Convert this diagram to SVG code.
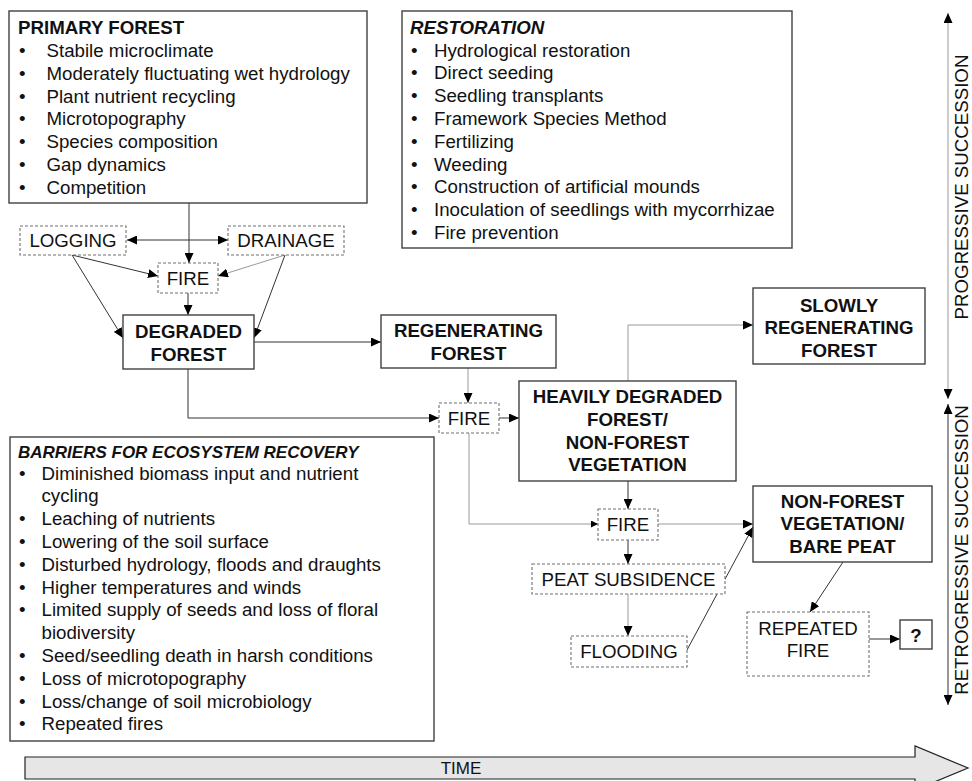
<svg xmlns="http://www.w3.org/2000/svg" width="972" height="781" viewBox="0 0 972 781">
<defs>
<marker id="ah" markerUnits="userSpaceOnUse" markerWidth="11" markerHeight="9" refX="10" refY="4.5" orient="auto-start-reverse"><path d="M0,0 L10,4.5 L0,9 z" fill="#000"/></marker>
<marker id="as" markerUnits="userSpaceOnUse" markerWidth="8" markerHeight="7" refX="7" refY="3.5" orient="auto-start-reverse"><path d="M0,0 L7,3.5 L0,7 z" fill="#000"/></marker>
<style>
text{font-family:"Liberation Sans",Arial,sans-serif;font-size:18.7px;fill:#111}
.b{font-weight:bold}
.bi{font-weight:bold;font-style:italic}
.c{text-anchor:middle}
.box{fill:#fff;stroke:#404040;stroke-width:1.4}
.dash{fill:#fff;stroke:#707070;stroke-width:1.1;stroke-dasharray:3,2}
.ln{fill:none;stroke:#333;stroke-width:1;marker-end:url(#ah)}
.lt{fill:none;stroke:#999;stroke-width:1;marker-end:url(#ah)}
</style>
</defs>
<g id="connectors">
<line class="ln" x1="189" y1="203" x2="189" y2="263"/>
<line class="ln" x1="127" y1="240" x2="228" y2="240" style="marker-start:url(#ah)"/>
<line class="ln" x1="72" y1="255" x2="158" y2="276"/>
<line class="ln" x1="72" y1="255" x2="123" y2="338"/>
<line class="lt" x1="285" y1="255" x2="218" y2="276"/>
<line class="ln" x1="285" y1="255" x2="254" y2="338"/>
<line class="ln" x1="188" y1="293" x2="188" y2="315"/>
<line class="ln" x1="254" y1="342" x2="381" y2="342"/>
<polyline class="ln" points="188,369 188,418 439,418"/>
<line class="lt" x1="468" y1="368" x2="468" y2="403"/>
<line class="ln" x1="499" y1="418" x2="519" y2="418"/>
<polyline class="lt" points="628,381 628,325 753,325"/>
<line class="ln" x1="628" y1="481" x2="628" y2="509"/>
<polyline class="lt" points="469,433 469,524 598,524" style="marker-end:url(#as)"/>
<line class="lt" x1="658" y1="524" x2="753" y2="524"/>
<line class="ln" x1="628" y1="540" x2="628" y2="564"/>
<line class="lt" x1="628" y1="594" x2="628" y2="636"/>
<line class="ln" x1="687" y1="650" x2="753" y2="527"/>
<line class="ln" x1="843" y1="562" x2="810" y2="612"/>
<line class="ln" x1="869" y1="639" x2="900" y2="639"/>
<line class="lt" x1="948" y1="399" x2="948" y2="13" style="marker-start:url(#ah)"/>
<line class="ln" x1="948" y1="404" x2="948" y2="705" style="marker-start:url(#ah)"/>
</g>
<g id="primary-forest">
<rect class="box" x="9" y="11" width="358" height="192"/>
<text class="b" x="18" y="34">PRIMARY FOREST</text>
<g>
<text x="19" y="57">•</text><text x="46.5" y="57">Stabile microclimate</text>
<text x="19" y="79.8">•</text><text x="46.5" y="79.8">Moderately fluctuating wet hydrology</text>
<text x="19" y="102.6">•</text><text x="46.5" y="102.6">Plant nutrient recycling</text>
<text x="19" y="125.4">•</text><text x="46.5" y="125.4">Microtopography</text>
<text x="19" y="148.2">•</text><text x="46.5" y="148.2">Species composition</text>
<text x="19" y="171">•</text><text x="46.5" y="171">Gap dynamics</text>
<text x="19" y="193.8">•</text><text x="46.5" y="193.8">Competition</text>
</g>
</g>
<g id="restoration">
<rect class="box" x="402" y="11" width="390" height="237"/>
<text class="bi" x="410" y="33.5">RESTORATION</text>
<text x="411" y="56.5">•</text><text x="434" y="56.5">Hydrological restoration</text>
<text x="411" y="79.3">•</text><text x="434" y="79.3">Direct seeding</text>
<text x="411" y="102.1">•</text><text x="434" y="102.1">Seedling transplants</text>
<text x="411" y="124.9">•</text><text x="434" y="124.9">Framework Species Method</text>
<text x="411" y="147.7">•</text><text x="434" y="147.7">Fertilizing</text>
<text x="411" y="170.5">•</text><text x="434" y="170.5">Weeding</text>
<text x="411" y="193.3">•</text><text x="434" y="193.3">Construction of artificial mounds</text>
<text x="411" y="216.1">•</text><text x="434" y="216.1">Inoculation of seedlings with mycorrhizae</text>
<text x="411" y="238.9">•</text><text x="434" y="238.9">Fire prevention</text>
</g>
<g id="barriers">
<rect class="box" x="10" y="437" width="424" height="304"/>
<text class="bi" x="18" y="458" style="font-size:17px">BARRIERS FOR ECOSYSTEM RECOVERY</text>
<text x="19" y="479.5">•</text><text x="41.5" y="479.5">Diminished biomass input and nutrient</text>
<text x="41.5" y="502.3">cycling</text>
<text x="19" y="525.1">•</text><text x="41.5" y="525.1">Leaching of nutrients</text>
<text x="19" y="547.9">•</text><text x="41.5" y="547.9">Lowering of the soil surface</text>
<text x="19" y="570.7">•</text><text x="41.5" y="570.7">Disturbed hydrology, floods and draughts</text>
<text x="19" y="593.5">•</text><text x="41.5" y="593.5">Higher temperatures and winds</text>
<text x="19" y="616.3">•</text><text x="41.5" y="616.3">Limited supply of seeds and loss of floral</text>
<text x="41.5" y="639.1">biodiversity</text>
<text x="19" y="661.9">•</text><text x="41.5" y="661.9">Seed/seedling death in harsh conditions</text>
<text x="19" y="684.7">•</text><text x="41.5" y="684.7">Loss of microtopography</text>
<text x="19" y="707.5">•</text><text x="41.5" y="707.5">Loss/change of soil microbiology</text>
<text x="19" y="730.3">•</text><text x="41.5" y="730.3">Repeated fires</text>
</g>
<g id="logging"><rect class="dash" x="20" y="226" width="106" height="29"/><text class="c" x="73" y="247">LOGGING</text></g>
<g id="drainage"><rect class="dash" x="228" y="226" width="116" height="29"/><text class="c" x="286" y="247">DRAINAGE</text></g>
<g id="fire1"><rect class="dash" x="158" y="263" width="60" height="30"/><text class="c" x="188" y="284.5">FIRE</text></g>
<g id="degraded-forest"><rect class="box" x="123" y="315" width="131" height="54"/><text class="b c" x="188.5" y="338">DEGRADED</text><text class="b c" x="188.5" y="361">FOREST</text></g>
<g id="regenerating-forest"><rect class="box" x="381" y="315" width="175" height="53"/><text class="b c" x="468.5" y="337">REGENERATING</text><text class="b c" x="468.5" y="360">FOREST</text></g>
<g id="fire2"><rect class="dash" x="439" y="403" width="60" height="30"/><text class="c" x="469" y="424.5">FIRE</text></g>
<g id="heavily-degraded"><rect class="box" x="519" y="381" width="217" height="100"/>
<text class="b c" x="627.5" y="403">HEAVILY DEGRADED</text><text class="b c" x="627.5" y="425.8">FOREST/</text><text class="b c" x="627.5" y="448.6">NON-FOREST</text><text class="b c" x="627.5" y="471.4">VEGETATION</text></g>
<g id="slowly-regenerating"><rect class="box" x="753" y="288" width="172" height="76"/>
<text class="b c" x="839" y="311.5">SLOWLY</text><text class="b c" x="839" y="334.3">REGENERATING</text><text class="b c" x="839" y="357">FOREST</text></g>
<g id="fire3"><rect class="dash" x="598" y="509" width="60" height="31"/><text class="c" x="628" y="531">FIRE</text></g>
<g id="non-forest"><rect class="box" x="753" y="486" width="179" height="76"/>
<text class="b c" x="842.5" y="507.5">NON-FOREST</text><text class="b c" x="842.5" y="530.3">VEGETATION/</text><text class="b c" x="842.5" y="553.1">BARE PEAT</text></g>
<g id="peat-subsidence"><rect class="dash" x="532" y="564" width="193" height="30"/><text class="c" x="628.5" y="585.5">PEAT SUBSIDENCE</text></g>
<g id="flooding"><rect class="dash" x="571" y="636" width="116" height="31"/><text class="c" x="629" y="658">FLOODING</text></g>
<g id="repeated-fire"><rect class="dash" x="747" y="612" width="122" height="64"/><text class="c" x="808" y="634.5">REPEATED</text><text class="c" x="808" y="657">FIRE</text></g>
<g id="unknown"><rect class="box" x="900" y="620" width="32" height="29"/><text class="b c" x="916" y="641.5">?</text></g>
<g id="axis-labels">
<text class="c" transform="translate(968,187) rotate(-90)">PROGRESSIVE SUCCESSION</text>
<text class="c" transform="translate(968,550) rotate(-90)">RETROGRESSIVE SUCCESSION</text>
</g>
<g id="time">
<path d="M25,757 L915,757 L915,746 L968,768 L915,790 L915,779 L25,779 Z" fill="#e6e6e6" stroke="#222" stroke-width="1.2"/>
<text class="c" x="461" y="774" style="font-size:17px">TIME</text>
</g>
</svg>
